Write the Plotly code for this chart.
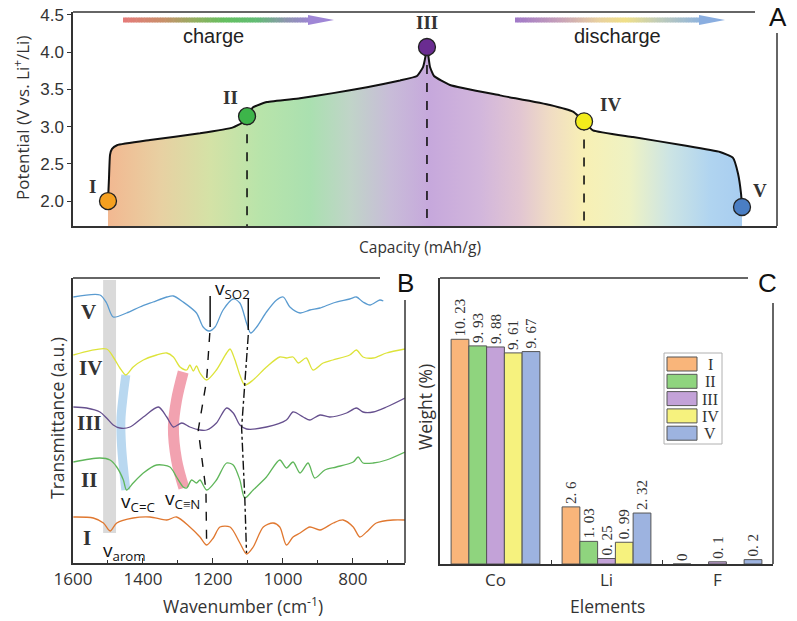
import plotly.graph_objects as go

W, H = 797, 621
def px(x): return x / W
def py(y): return 1 - y / H

# ---------------- Panel A data: charge/discharge curve ----------------
capacity = [4.97, 5.11, 5.26, 5.54, 6.25, 10.94, 18.04, 22.73, 24.15, 24.72, 25.57, 27.56,
            32.24, 36.93, 41.76, 46.45, 48.86, 49.72, 50.14, 50.28, 50.43, 50.71, 51.28,
            53.55, 60.65, 67.76, 71.02, 72.02, 72.59, 73.86, 79.55, 86.65, 91.90, 93.75,
            94.46, 94.89, 95.03]
potential = [2.00, 2.30, 2.62, 2.70, 2.75, 2.82, 2.91, 2.99, 3.06, 3.14, 3.26, 3.33,
             3.38, 3.45, 3.53, 3.62, 3.68, 3.80, 3.98, 4.07, 3.98, 3.80, 3.68,
             3.56, 3.42, 3.29, 3.20, 3.12, 3.07, 2.95, 2.86, 2.75, 2.66, 2.58,
             2.37, 2.10, 1.92]
stages = ["I", "II", "III", "IV", "V"]
stage_capacity = [4.97, 24.72, 50.28, 72.59, 95.03]
stage_potential = [2.00, 3.14, 4.07, 3.07, 1.92]
stage_marker_colors = ["#f5a020", "#3db54a", "#6a2c91", "#f2ec1c", "#4a7ec4"]
potential_ticks = [2.0, 2.5, 3.0, 3.5, 4.0, 4.5]
A_ymin, A_ymax = 1.665, 4.54

# ---------------- Panel B data: FTIR spectra ----------------
wn_V = [1599, 1523, 1504, 1485, 1447, 1409, 1371, 1332, 1313, 1285, 1247, 1228, 1211, 1194, 1171,
        1142, 1123, 1104, 1092, 1075, 1047, 1018, 999, 980, 951, 923, 894, 856, 809, 790, 771, 751, 723, 713]
tr_V = [266, 268, 260, 246, 250, 256, 261, 266, 267, 261, 250, 236, 232, 236, 253,
        264, 260, 240, 230, 236, 251, 263, 266, 256, 250, 253, 255, 260, 264, 266, 261, 258, 263, 262]
wn_IV = [1599, 1504, 1485, 1466, 1449, 1428, 1399, 1361, 1332, 1313, 1294, 1275, 1266, 1256, 1247,
         1237, 1218, 1190, 1161, 1151, 1137, 1123, 1109, 1085, 1047, 1009, 990, 971, 956, 933, 914,
         885, 857, 809, 790, 771, 742, 704, 651]
tr_IV = [208, 214, 206, 195, 188, 196, 203, 208, 210, 206, 196, 193, 198, 192, 197,
         190, 183, 193, 210, 214, 203, 188, 178, 183, 196, 206, 205, 206, 200, 205, 193,
         200, 203, 208, 213, 206, 205, 210, 214]
wn_III = [1599, 1561, 1523, 1504, 1485, 1466, 1437, 1399, 1356, 1332, 1313, 1289, 1266, 1237, 1218,
          1190, 1161, 1142, 1123, 1104, 1047, 990, 971, 942, 923, 894, 866, 818, 790, 771, 742, 704, 651]
tr_III = [156, 155, 151, 145, 138, 135, 136, 146, 156, 146, 136, 140, 136, 133, 133,
          140, 155, 150, 138, 134, 136, 143, 151, 146, 143, 148, 146, 150, 155, 151, 151, 156, 165]
wn_II = [1599, 1523, 1494, 1475, 1456, 1447, 1428, 1399, 1361, 1323, 1304, 1285, 1275, 1261, 1247,
         1237, 1218, 1190, 1161, 1142, 1123, 1109, 1085, 1047, 1009, 990, 971, 951, 928, 909, 880,
         847, 799, 785, 771, 742, 704, 651]
tr_II = [101, 105, 103, 96, 83, 73, 80, 90, 98, 96, 86, 76, 75, 83, 80,
         83, 73, 83, 100, 98, 83, 65, 73, 86, 103, 95, 101, 90, 100, 85, 93,
         96, 101, 106, 100, 100, 103, 111]
wn_I = [1599, 1542, 1513, 1494, 1475, 1428, 1380, 1332, 1304, 1266, 1237, 1218, 1199, 1180, 1151,
        1123, 1104, 1085, 1056, 1028, 1009, 990, 971, 951, 923, 894, 856, 828, 799, 780, 761, 733, 685, 651]
tr_I = [46, 45, 40, 32, 40, 45, 46, 43, 46, 36, 26, 18, 25, 36, 36,
        20, 9, 16, 36, 40, 36, 18, 26, 30, 36, 33, 40, 43, 36, 26, 31, 40, 43, 43]
spectrum_colors = {"V": "#5a9bd0", "IV": "#dde33a", "III": "#66508e", "II": "#5fb65a", "I": "#e07830"}

# guide bands / lines (wavenumber, transmittance)
band_CC_wn = [1449, 1457, 1463, 1461, 1449]
band_CC_tr = [188, 166, 143, 116, 73]
band_CN_wn = [1285, 1304, 1313, 1304, 1283]
band_CN_tr = [191, 163, 136, 103, 75]
guide_SO2a_wn = [1209, 1218, 1242, 1220, 1218]
guide_SO2a_tr = [230, 183, 133, 73, 18]
guide_SO2b_wn = [1099, 1109, 1118, 1109, 1104]
guide_SO2b_tr = [228, 178, 135, 66, 10]
arom_band = (1514, 1477, 30, 283)
so2_marks = [(1208, 236, 267), (1099, 233, 264)]

# ---------------- Panel C data: EDS weight ----------------
elements = ["Co", "Li", "F"]
w_I = [10.23, 2.6, 0]
w_II = [9.93, 1.03, None]
w_III = [9.88, 0.25, 0.1]
w_IV = [9.61, 0.99, None]
w_V = [9.67, 2.32, 0.2]
bar_colors = ["#f9b57a", "#8fd47e", "#c3a2d8", "#f6f27e", "#9db3e0"]

SANS = "Liberation Sans"
OPEN = "Open Sans"
SERIF = "Liberation Serif"
AX = "#333333"

fig = go.Figure()

# ---- Panel A ----
fill_scale = [[0.0, "#f2b891"], [0.082, "#e8d0a2"], [0.161, "#d4e2a6"], [0.24, "#b8e4aa"],
              [0.319, "#aae0b0"], [0.382, "#c0d4c8"], [0.445, "#c8bcd8"], [0.508, "#c6a8dc"],
              [0.587, "#d2b6dc"], [0.65, "#e2c6d2"], [0.697, "#f0dcc4"], [0.752, "#f8f0b4"],
              [0.823, "#eef2c4"], [0.886, "#cce4e4"], [0.95, "#b0d4f0"], [1.0, "#a8cdf0"]]
fig.add_trace(go.Scatter(x=capacity, y=potential, mode="lines", fill="tozeroy",
                         fillgradient=dict(type="horizontal", colorscale=fill_scale),
                         line=dict(color="#111111", width=2, shape="spline", smoothing=0.4),
                         showlegend=False, xaxis="x", yaxis="y", hoverinfo="skip"))
for i in [1, 2, 3]:
    fig.add_trace(go.Scatter(x=[stage_capacity[i], stage_capacity[i]], y=[stage_potential[i], A_ymin],
                             mode="lines", line=dict(color="#111111", width=1.6, dash="dash"),
                             showlegend=False, xaxis="x", yaxis="y"))
fig.add_trace(go.Scatter(x=stage_capacity, y=stage_potential, mode="markers",
                         marker=dict(size=17, color=stage_marker_colors, line=dict(color="#222", width=1.3)),
                         showlegend=False, xaxis="x", yaxis="y"))

# ---- Panel B ----
fig.add_trace(go.Scatter(x=band_CC_wn, y=band_CC_tr, mode="lines",
                         line=dict(color="#b9d8f0", width=9, shape="spline"),
                         showlegend=False, xaxis="x2", yaxis="y2"))
fig.add_trace(go.Scatter(x=band_CN_wn, y=band_CN_tr, mode="lines",
                         line=dict(color="#f2a2b0", width=11, shape="spline"),
                         showlegend=False, xaxis="x2", yaxis="y2"))
spectra = [("V", wn_V, tr_V), ("IV", wn_IV, tr_IV), ("III", wn_III, tr_III),
           ("II", wn_II, tr_II), ("I", wn_I, tr_I)]
for name, wx, ty in spectra:
    fig.add_trace(go.Scatter(x=wx, y=ty, mode="lines",
                             line=dict(color=spectrum_colors[name], width=1.3, shape="spline", smoothing=0.8),
                             showlegend=False, xaxis="x2", yaxis="y2"))
fig.add_trace(go.Scatter(x=guide_SO2a_wn, y=guide_SO2a_tr, mode="lines",
                         line=dict(color="#111", width=1.4, dash="dash"),
                         showlegend=False, xaxis="x2", yaxis="y2"))
fig.add_trace(go.Scatter(x=guide_SO2b_wn, y=guide_SO2b_tr, mode="lines",
                         line=dict(color="#111", width=1.4, dash="dashdot"),
                         showlegend=False, xaxis="x2", yaxis="y2"))

# ---- Panel C ----
def fmt(v):
    return "" if v is None else str(v).replace(".", ". ")
for name, vals, col in zip(stages, [w_I, w_II, w_III, w_IV, w_V], bar_colors):
    fig.add_trace(go.Bar(x=elements, y=vals, name=name, marker=dict(color=col, line=dict(color="#555", width=1)),
                         text=[fmt(v) for v in vals], textposition="outside", textangle=-90,
                         textfont=dict(family=SERIF, size=15, color="#333"), constraintext="none",
                         cliponaxis=False, showlegend=False, xaxis="x3", yaxis="y3"))

# ---------------- shapes ----------------
shapes = []
def pline(x0, y0, x1, y1, w=1.5):
    shapes.append(dict(type="line", xref="paper", yref="paper", x0=px(x0), y0=py(y0), x1=px(x1), y1=py(y1),
                       line=dict(color=AX, width=w)))
pline(73, 12, 755, 12); pline(777, 33, 777, 226)
pline(73, 278, 380, 278); pline(405, 300, 405, 563)
pline(440, 278, 748, 278); pline(773, 303, 773, 564)

shapes.append(dict(type="rect", xref="x2", yref="y2", x0=arom_band[0], x1=arom_band[1],
                   y0=arom_band[2], y1=arom_band[3], fillcolor="rgba(205,205,205,0.75)",
                   line=dict(width=0), layer="below"))
for wv, y0, y1 in so2_marks:
    shapes.append(dict(type="line", xref="x2", yref="y2", x0=wv, x1=wv, y0=y0, y1=y1,
                       line=dict(color="#111", width=1.5)))

def hex2rgb(h):
    h = h.lstrip("#"); return tuple(int(h[i:i + 2], 16) for i in (0, 2, 4))
def interp(stops, t):
    for (t0, c0), (t1, c1) in zip(stops[:-1], stops[1:]):
        if t0 <= t <= t1:
            f = (t - t0) / (t1 - t0) if t1 > t0 else 0
            a, b = hex2rgb(c0), hex2rgb(c1)
            return "rgb(%d,%d,%d)" % tuple(round(a[k] + (b[k] - a[k]) * f) for k in range(3))
    return stops[-1][1]
def grad_arrow(x0, xhead, xtip, y, stops, headcol, n=70):
    for i in range(n):
        t0, t1 = i / n, (i + 1) / n
        xa = x0 + (xhead - x0) * t0
        xb = x0 + (xhead - x0) * t1 + 0.6
        shapes.append(dict(type="rect", xref="paper", yref="paper", x0=px(xa), x1=px(xb),
                           y0=py(y + 2.5), y1=py(y - 2.5), fillcolor=interp(stops, (t0 + t1) / 2),
                           line=dict(width=0)))
    shapes.append(dict(type="path", xref="paper", yref="paper",
                       path="M %f,%f L %f,%f L %f,%f Z" % (px(xhead), py(y - 5), px(xtip), py(y), px(xhead), py(y + 5)),
                       fillcolor=headcol, line=dict(width=0)))
grad_arrow(123, 308, 334, 20, [(0, "#e67a7a"), (0.22, "#c8906a"), (0.4, "#90b060"), (0.55, "#64c060"),
                               (0.72, "#62bc74"), (0.88, "#8c96ae"), (1.0, "#9c86d0")], "#9f86d6")
grad_arrow(515, 699, 725, 20, [(0, "#a078c8"), (0.25, "#c8a2b8"), (0.45, "#e8d0a0"), (0.6, "#f0e088"),
                               (0.78, "#c0ccb8"), (1.0, "#90b4dc")], "#8aaee0")

# ---------------- annotations ----------------
ann = []
def txt(x, y, s, size, family=OPEN, color="#222", angle=0, bold=False, xanchor="center"):
    if bold:
        s = "<b>" + s + "</b>"
    ann.append(dict(x=px(x), y=py(y), xref="paper", yref="paper", text=s, showarrow=False,
                    xanchor=xanchor, yanchor="middle", textangle=angle,
                    font=dict(family=family, size=size, color=color)))

# custom legend for panel C (swatches + labels)
shapes.append(dict(type="rect", xref="paper", yref="paper", x0=px(664), x1=px(722), y0=py(444), y1=py(353),
                   fillcolor="white", line=dict(color="#b0b0b0", width=1)))
for k, (name, col) in enumerate(zip(stages, bar_colors)):
    ytop = 357 + 17.3 * k
    shapes.append(dict(type="rect", xref="paper", yref="paper", x0=px(667), x1=px(697),
                       y0=py(ytop + 14), y1=py(ytop), fillcolor=col, line=dict(color="#555", width=1)))
    txt(710, ytop + 7.5, name, 16, SERIF, "#333", xanchor="center")

txt(213, 36, "charge", 20, SANS)
txt(617, 36, "discharge", 20, SANS)
for s, (x, y) in zip(stages, [(92, 186), (230, 97), (427, 22), (610, 105), (760, 190)]):
    txt(x, y, s, 19, SERIF, "#333", bold=True)
txt(778, 17, "A", 26, SANS, "#111")
txt(22, 118, "Potential (V vs. Li<sup>+</sup>/Li)", 17, OPEN, "#333", angle=-90)
txt(420, 247, "Capacity (mAh/g)", 15.5, OPEN, "#333")

txt(405, 283, "B", 26, SANS, "#111")
for s, (x, y) in zip(["V", "IV", "III", "II", "I"], [(88, 312), (90, 368), (89, 423), (89, 480), (87, 538)]):
    txt(x, y, s, 21, SERIF, "#333", bold=True)
txt(232, 289, "v<sub>SO2</sub>", 19, OPEN, "#111")
txt(138, 502, "v<sub>C=C</sub>", 19, OPEN, "#111")
txt(182, 499, "v<sub>C≡N</sub>", 19, OPEN, "#111")
txt(124, 551, "v<sub>arom</sub>", 19, OPEN, "#111")
txt(57, 418, "Transmittance (a.u.)", 17.5, OPEN, "#333", angle=-90)
txt(243, 605, "Wavenumber (cm<sup>-1</sup>)", 17.5, OPEN, "#333")

txt(767, 283, "C", 26, SANS, "#111")
txt(425, 407, "Weight (%)", 17.5, OPEN, "#333", angle=-90)
txt(607, 606, "Elements", 17.5, OPEN, "#333")

axis_common = dict(showgrid=False, zeroline=False, showline=True, linecolor=AX, linewidth=1.5, automargin=False)
fig.update_layout(
    width=W, height=H, margin=dict(l=0, r=0, t=0, b=0, autoexpand=False),
    paper_bgcolor="white", plot_bgcolor="white", showlegend=False,
    barmode="group", bargap=0.2, bargroupgap=0,
    xaxis=dict(domain=[px(73), px(777)], range=[0, 100], showticklabels=False, ticks="",
               anchor="y", **axis_common),
    yaxis=dict(domain=[py(226), py(12)], range=[A_ymin, A_ymax], tickvals=potential_ticks,
               tickformat=".1f", ticks="outside", ticklen=4, tickcolor=AX,
               tickfont=dict(family=SANS, size=17, color="#333"), anchor="x", **axis_common),
    xaxis2=dict(domain=[px(73), px(405)], range=[1600, 651], dtick=200, tick0=0, ticks="inside",
                ticklen=5, tickcolor=AX, minor=dict(ticks="inside", dtick=100, ticklen=3, tickcolor=AX),
                tickfont=dict(family=OPEN, size=17, color="#333"), anchor="y2", **axis_common),
    yaxis2=dict(domain=[py(563), py(278)], range=[0, 285], showticklabels=False, ticks="",
                anchor="x2", **axis_common),
    xaxis3=dict(domain=[px(440), px(773)], type="category", range=[-0.5, 2.5], tickson="boundaries",
                ticks="inside", ticklen=4, tickcolor=AX,
                tickfont=dict(family=OPEN, size=17, color="#333"), anchor="y3", **axis_common),
    yaxis3=dict(domain=[py(564), py(278)], range=[0, 13.02], showticklabels=False, ticks="",
                anchor="x3", **axis_common),
    shapes=shapes, annotations=ann,
)
fig.write_html("out.html")
